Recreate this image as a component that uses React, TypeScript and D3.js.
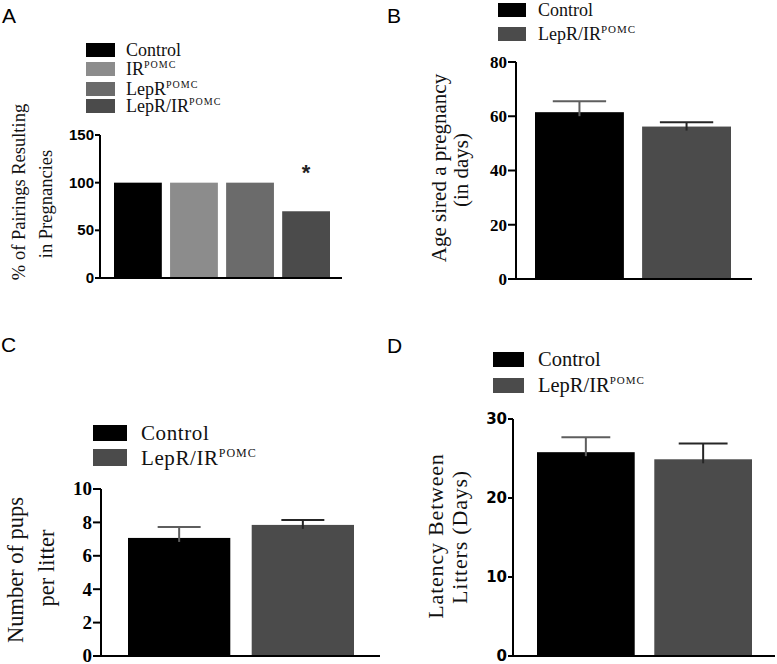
import React from "react";
import * as d3 from "d3";

// ---------- data ----------
const groupsA = ["Control", "IR", "LepR", "LepR/IR"];
const legendSupA = ["", "POMC", "POMC", "POMC"];
const valuesA = [100, 100, 100, 70];
const colorsA = ["#000000", "#8c8c8c", "#6b6b6b", "#4b4b4b"];
const ticksA = [0, 50, 100, 150];

const groupsTwo = ["Control", "LepR/IR"];
const legendSupTwo = ["", "POMC"];
const colorsTwo = ["#000000", "#4b4b4b"];
const errColorsTwo = ["#5e5e5e", "#262626"];

const valuesB = [61.5, 56.2];
const errorsB = [4.0, 1.6];
const ticksB = [0, 20, 40, 60, 80];

const valuesC = [7.07, 7.85];
const errorsC = [0.65, 0.3];
const ticksC = [0, 2, 4, 6, 8, 10];

const valuesD = [25.8, 24.9];
const errorsD = [1.9, 2.0];
const ticksD = [0, 10, 20, 30];

const SERIF = "'Palatino Linotype', 'Book Antiqua', Palatino, 'Liberation Serif', serif";
const SANS = "Arial, 'Liberation Sans', sans-serif";

type PanelProps = {
  letter: string;
  letterX: number;
  letterY: number;
  groups: string[];
  sups: string[];
  values: number[];
  errors?: number[];
  colors: string[];
  errColors?: string[];
  ticks: number[];
  axisX: number;
  yTop: number;
  yBottom: number;
  barStart: number;
  barEnd: number;
  padInner: number;
  axisEnd: number;
  tickLen: number;
  tickFont: string;
  tickSize: number;
  tickWeight: string;
  capFrac: number;
  legendX: number;
  legendTextX: number;
  swatchW: number;
  legendRows: [number, number][];
  legendSize: number;
  legendSpacing?: number;
  supSize: number;
  supDy: number;
  ylabel: string[];
  ylabelX: number[];
  ylabelY: number[];
  ylabelSize: number;
  ylabelSpacing?: number;
  asteriskIndex?: number;
};

function Panel(p: PanelProps) {
  const y = d3
    .scaleLinear()
    .domain([p.ticks[0], p.ticks[p.ticks.length - 1]])
    .range([p.yBottom, p.yTop]);
  const x = d3
    .scaleBand<string>()
    .domain(p.groups)
    .range([p.barStart, p.barEnd])
    .paddingInner(p.padInner)
    .paddingOuter(0);
  const bw = x.bandwidth();
  return (
    <g>
      <text x={p.letterX} y={p.letterY} fontFamily={SANS} fontSize={21} fill="#000">
        {p.letter}
      </text>
      {/* legend */}
      {p.groups.map((g, i) => (
        <g key={"lg" + i}>
          <rect
            x={p.legendX}
            y={p.legendRows[i][0]}
            width={p.swatchW}
            height={p.legendRows[i][1] - p.legendRows[i][0]}
            fill={p.colors[i]}
          />
          <text
            x={p.legendTextX}
            y={p.legendRows[i][1] - 1}
            fontFamily={SERIF}
            fontSize={p.legendSize}
            letterSpacing={p.legendSpacing ?? 0}
            fill="#111"
          >
            {g}
            {p.sups[i] ? (
              <tspan dy={-p.supDy} fontSize={p.supSize} letterSpacing={1}>
                {p.sups[i]}
              </tspan>
            ) : null}
          </text>
        </g>
      ))}
      {/* bars */}
      {p.groups.map((g, i) => (
        <rect
          key={"b" + i}
          x={x(g)}
          y={y(p.values[i])}
          width={bw}
          height={y(0) - y(p.values[i])}
          fill={p.colors[i]}
        />
      ))}
      {/* error bars */}
      {p.errors &&
        p.groups.map((g, i) => {
          const cx = (x(g) as number) + bw / 2;
          const top = y(p.values[i] + p.errors![i]);
          const col = p.errColors ? p.errColors[i] : "#222";
          const half = (bw * p.capFrac) / 2;
          return (
            <g key={"e" + i} stroke={col} strokeWidth={2}>
              <line x1={cx} x2={cx} y1={y(p.values[i]) + 4} y2={top} />
              <line x1={cx - half} x2={cx + half} y1={top} y2={top} />
            </g>
          );
        })}
      {p.asteriskIndex !== undefined && (
        <text
          x={(x(p.groups[p.asteriskIndex]) as number) + bw / 2}
          y={y(p.values[p.asteriskIndex]) - 31}
          textAnchor="middle"
          fontFamily={SANS}
          fontWeight="bold"
          fontSize={22}
          fill="#222"
        >
          *
        </text>
      )}
      {/* axes */}
      <line x1={p.axisX} x2={p.axisX} y1={p.yTop} y2={p.yBottom + 1} stroke="#000" strokeWidth={2} />
      <line x1={p.axisX - 1} x2={p.axisEnd} y1={p.yBottom} y2={p.yBottom} stroke="#000" strokeWidth={2} />
      {p.ticks.map((t) => (
        <g key={"t" + t}>
          <line x1={p.axisX - p.tickLen} x2={p.axisX} y1={y(t)} y2={y(t)} stroke="#000" strokeWidth={2} />
          <text
            x={p.axisX - p.tickLen - 1}
            y={y(t)}
            dy="0.34em"
            textAnchor="end"
            fontFamily={p.tickFont}
            fontWeight={p.tickWeight}
            fontSize={p.tickSize}
            fill="#000"
          >
            {t}
          </text>
        </g>
      ))}
      {/* y label */}
      {p.ylabel.map((l, i) => (
        <text
          key={"yl" + i}
          transform={`translate(${p.ylabelX[i]},${p.ylabelY[i]}) rotate(-90)`}
          textAnchor="middle"
          fontFamily={SERIF}
          fontSize={p.ylabelSize}
          letterSpacing={p.ylabelSpacing ?? 0}
          fill="#111"
        >
          {l}
        </text>
      ))}
    </g>
  );
}

export default function App() {
  return (
    <svg
      width={777}
      height={664}
      style={{ position: "absolute", left: 0, top: 0, background: "#fff" }}
    >
      <rect width={777} height={664} fill="#fff" />
      <Panel
        letter="A"
        letterX={2}
        letterY={23}
        groups={groupsA}
        sups={legendSupA}
        values={valuesA}
        colors={colorsA}
        ticks={ticksA}
        axisX={100}
        yTop={135}
        yBottom={278}
        barStart={114}
        barEnd={330}
        padInner={0.147}
        axisEnd={342}
        tickLen={5}
        tickFont={SANS}
        tickSize={15}
        tickWeight="bold"
        capFrac={0.5}
        legendX={86}
        legendTextX={126}
        swatchW={29}
        legendRows={[
          [43, 57],
          [62, 76],
          [82, 96],
          [99, 113],
        ]}
        legendSize={18}
        supSize={10}
        supDy={7}
        ylabel={["% of Pairings Resulting", "in Pregnancies"]}
        ylabelX={[25, 52]}
        ylabelY={[192, 204]}
        ylabelSize={18.5}
        asteriskIndex={3}
      />
      <Panel
        letter="B"
        letterX={387}
        letterY={23}
        groups={groupsTwo}
        sups={legendSupTwo}
        values={valuesB}
        errors={errorsB}
        colors={colorsTwo}
        errColors={errColorsTwo}
        ticks={ticksB}
        axisX={516}
        yTop={62}
        yBottom={279}
        barStart={535}
        barEnd={731}
        padInner={0.17}
        axisEnd={752}
        tickLen={8}
        tickFont={SERIF}
        tickSize={17}
        tickWeight="bold"
        capFrac={0.6}
        legendX={498}
        legendTextX={538}
        swatchW={28}
        legendRows={[
          [3, 17],
          [27, 41],
        ]}
        legendSize={18}
        supSize={11}
        supDy={7}
        ylabel={["Age sired a pregnancy", "(in days)"]}
        ylabelX={[446, 468]}
        ylabelY={[168, 170]}
        ylabelSize={21}
      />
      <Panel
        letter="C"
        letterX={1}
        letterY={352}
        groups={groupsTwo}
        sups={legendSupTwo}
        values={valuesC}
        errors={errorsC}
        colors={colorsTwo}
        errColors={errColorsTwo}
        ticks={ticksC}
        axisX={101}
        yTop={489}
        yBottom={656}
        barStart={128}
        barEnd={354}
        padInner={0.173}
        axisEnd={380}
        tickLen={8}
        tickFont={SERIF}
        tickSize={19}
        tickWeight="bold"
        capFrac={0.42}
        legendX={93}
        legendTextX={141}
        swatchW={34}
        legendRows={[
          [425, 441],
          [449, 466],
        ]}
        legendSize={21}
        legendSpacing={0.6}
        supSize={12}
        supDy={8}
        ylabel={["Number of pups", "per litter"]}
        ylabelX={[23, 54]}
        ylabelY={[570, 568]}
        ylabelSize={22.5}
      />
      <Panel
        letter="D"
        letterX={387}
        letterY={353}
        groups={groupsTwo}
        sups={legendSupTwo}
        values={valuesD}
        errors={errorsD}
        colors={colorsTwo}
        errColors={errColorsTwo}
        ticks={ticksD}
        axisX={513}
        yTop={419}
        yBottom={656}
        barStart={537}
        barEnd={752}
        padInner={0.167}
        axisEnd={775}
        tickLen={5}
        tickFont="'DejaVu Sans', Verdana, sans-serif"
        tickSize={15}
        tickWeight="bold"
        capFrac={0.5}
        legendX={493}
        legendTextX={538}
        swatchW={31}
        legendRows={[
          [352, 367],
          [378, 393],
        ]}
        legendSize={20.5}
        supSize={11}
        supDy={8}
        ylabel={["Latency Between", "Litters (Days)"]}
        ylabelX={[443, 467]}
        ylabelY={[536, 537]}
        ylabelSize={22}
        ylabelSpacing={0.8}
      />
    </svg>
  );
}
